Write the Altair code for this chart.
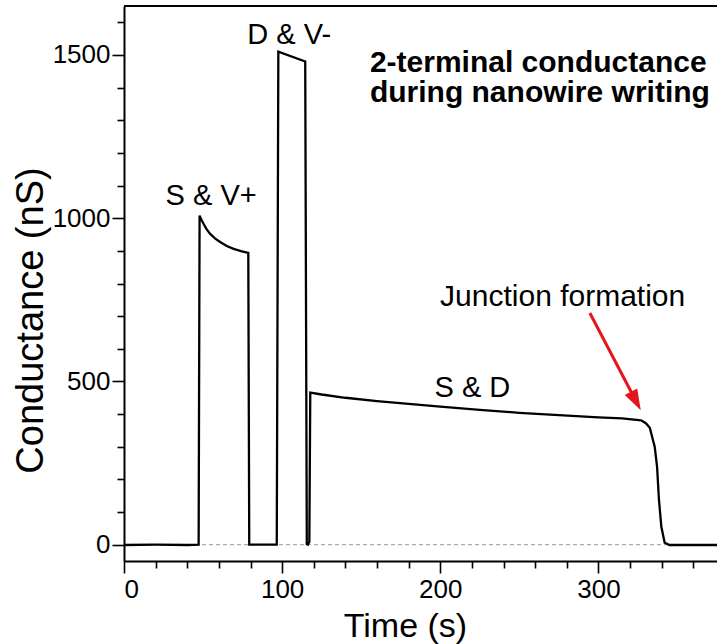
import altair as alt
import pandas as pd

# Two-terminal conductance trace recorded while writing the nanowire
time_s = [0, 20, 40, 47.2, 47.8, 48.5, 49.3, 50.3, 52.0, 54.5, 57.5, 60.8, 65.0,
          69.3, 74.0, 78.6, 79.2, 96.6, 97.6, 114.6, 115.6, 116.3, 117.2, 117.8,
          125, 140, 160, 180, 200, 225, 250, 275, 300, 315, 327, 330, 332.5,
          335.6, 337.1, 338.3, 339.8, 341.9, 345, 360, 375]
conductance_nS = [-1, 0, -1, 0, 1008, 1000, 992, 983, 968, 952, 938, 927, 915,
                  906, 899, 894, 0, 0, 1510, 1480, 2, 0, 8, 466,
                  460, 450, 440, 431, 423, 413, 404, 397, 390, 387, 381, 372, 358,
                  300, 239, 137, 55, 6, -1, -1, -1]

# Electrode-pair labels for each writing step
step_labels = ["S & V+", "D & V-", "S & D"]
heading_lines = ["2-terminal conductance", "during nanowire writing"]
callout = "Junction formation"

FONT = "Liberation Sans"
RED = "#e3161d"
W, H = 593, 555

trace = pd.DataFrame({"t": time_s, "g": conductance_nS})

x_scale = alt.Scale(domain=[0, 375], nice=False, zero=False)
y_scale = alt.Scale(domain=[-50, 1650], nice=False, zero=False)

x_axis = alt.Axis(
    values=list(range(0, 380, 20)), format="d",
    labelExpr="datum.value % 100 === 0 ? datum.label : ''",
    tickSize={"condition": {"test": "datum.value % 100 === 0", "value": 12}, "value": 7},
    grid=False, domainColor="black", domainWidth=2, tickColor="black", tickWidth=1.6,
    labelFont=FONT, labelFontSize=26, labelColor="black", labelPadding=3,
    title="Time (s)", titleFont=FONT, titleFontSize=34, titleFontWeight="normal",
    titleColor="black", titleX=281, titleY=75, titleBaseline="alphabetic",
    titleAlign="center", titleAnchor="start",
)
y_axis = alt.Axis(
    values=list(range(0, 1700, 100)), format="d",
    labelExpr="datum.value % 500 === 0 ? datum.label : ''",
    tickSize={"condition": {"test": "datum.value % 500 === 0", "value": 12}, "value": 7},
    grid=False, domainColor="black", domainWidth=2, tickColor="black", tickWidth=1.6,
    labelFont=FONT, labelFontSize=26, labelColor="black", labelPadding=2,
    title="Conductance (nS)", titleFont=FONT, titleFontSize=38, titleFontWeight="normal",
    titleColor="black", titleAngle=270, titleX=-82, titleY=314,
    titleBaseline="alphabetic", titleAlign="center", titleAnchor="start",
)

base = alt.Chart(trace)

zero_line = alt.Chart(pd.DataFrame({"g": [0]})).mark_rule(
    color="#9a9a9a", strokeWidth=1, strokeDash=[4, 3]
).encode(y=alt.Y("g:Q", scale=y_scale, axis=y_axis))

line = base.mark_line(color="black", strokeWidth=2.3).encode(
    x=alt.X("t:Q", scale=x_scale, axis=x_axis),
    y=alt.Y("g:Q", scale=y_scale, axis=y_axis),
)

top_frame = alt.Chart(pd.DataFrame({"g": [1650]})).mark_rule(
    color="black", strokeWidth=2
).encode(y=alt.Y("g:Q", scale=y_scale, axis=y_axis))

steps = pd.DataFrame({
    "text": step_labels,
    "t": [55.1, 104.5, 220.3],
    "g": [1039, 1533, 451],
})
step_text = alt.Chart(steps).mark_text(
    font=FONT, fontSize=29, color="black", align="center", baseline="alphabetic"
).encode(
    x=alt.X("t:Q", scale=x_scale, axis=x_axis),
    y=alt.Y("g:Q", scale=y_scale, axis=y_axis),
    text="text:N",
)

heading = pd.DataFrame({"text": heading_lines, "t": [155.5, 155.5], "g": [1448, 1356]})
heading_text = alt.Chart(heading).mark_text(
    font=FONT, fontSize=30, fontWeight="bold", color="black",
    align="left", baseline="alphabetic"
).encode(
    x=alt.X("t:Q", scale=x_scale, axis=x_axis),
    y=alt.Y("g:Q", scale=y_scale, axis=y_axis),
    text="text:N",
)

callout_df = pd.DataFrame({"text": [callout], "t": [277.4], "g": [730]})
callout_text = alt.Chart(callout_df).mark_text(
    font=FONT, fontSize=30, color="black", align="center", baseline="alphabetic"
).encode(
    x=alt.X("t:Q", scale=x_scale, axis=x_axis),
    y=alt.Y("g:Q", scale=y_scale, axis=y_axis),
    text="text:N",
)

# Arrow pointing at the onset of the conductance drop
shaft = pd.DataFrame({"t": [294.6, 321.5], "g": [709.5, 460.6]})
arrow_shaft = alt.Chart(shaft).mark_line(color=RED, strokeWidth=3).encode(
    x=alt.X("t:Q", scale=x_scale, axis=x_axis),
    y=alt.Y("g:Q", scale=y_scale, axis=y_axis),
)
tip = pd.DataFrame({"t": [326.8], "g": [412]})
arrow_head = alt.Chart(tip).mark_point(
    shape="M0,0L0.64,1.9L-0.64,1.9Z", size=484, angle=152, filled=True,
    color=RED, opacity=1, strokeWidth=0
).encode(
    x=alt.X("t:Q", scale=x_scale, axis=x_axis),
    y=alt.Y("g:Q", scale=y_scale, axis=y_axis),
)

chart = alt.layer(
    zero_line, line, top_frame, step_text, heading_text, callout_text,
    arrow_shaft, arrow_head
).properties(
    width=W, height=H,
    autosize=alt.AutoSizeParams(type="none"),
    padding={"left": 124, "top": 6, "right": 0, "bottom": 83},
    background="white",
).configure_view(stroke=None)

chart.save("out.html", embed_options={"renderer": "svg", "actions": False})
